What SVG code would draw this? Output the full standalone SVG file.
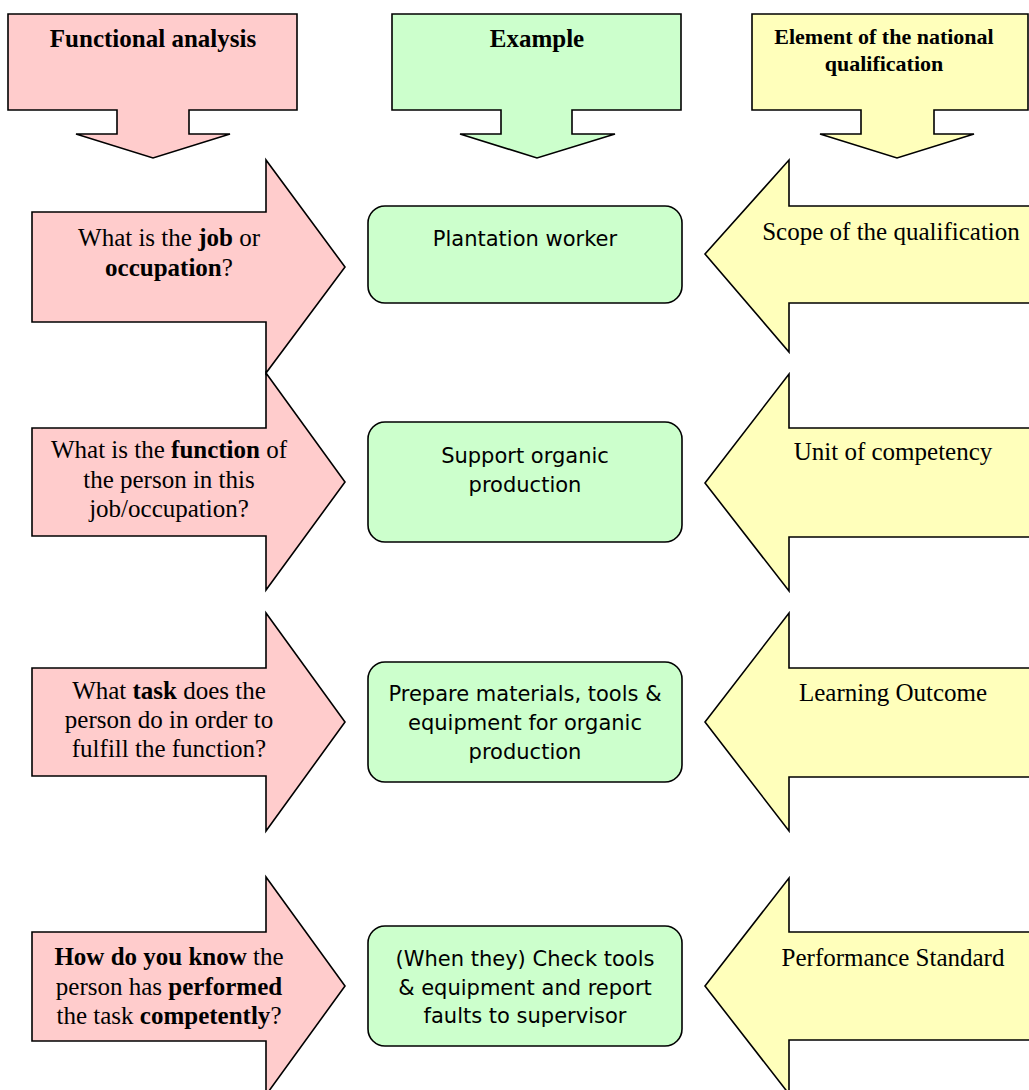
<svg xmlns="http://www.w3.org/2000/svg" width="1029" height="1090" viewBox="0 0 1029 1090">
<style>
.pink{fill:#FFCCCC;stroke:#000;stroke-width:1.6;stroke-linejoin:miter}
.green{fill:#CCFFCC;stroke:#000;stroke-width:1.6}
.yellow{fill:#FFFFBB;stroke:#000;stroke-width:1.6;stroke-linejoin:miter}
.hdr{font-family:"Liberation Serif","Times New Roman",serif;font-weight:bold;font-size:25px;text-anchor:middle;fill:#000}
.ser{font-family:"Liberation Serif","Times New Roman",serif;font-size:25px;text-anchor:middle;fill:#000}
.ser tspan.b{font-weight:bold}
.sans{font-family:"DejaVu Sans",Verdana,sans-serif;font-size:21px;text-anchor:middle;fill:#000}
</style>
<rect width="1029" height="1090" fill="#fff"/>

<g id="header-functional">
<path class="pink" d="M8,14 H297 V110 H189 V134 H230 L153,158 L76,134 H117 V110 H8 Z"/>
<text class="hdr" x="153" y="47">Functional analysis</text>
</g>
<g id="header-example">
<path class="green" d="M392,14 H681 V110 H572 V134 H615 L537,158 L460,134 H501 V110 H392 Z"/>
<text class="hdr" x="537" y="47">Example</text>
</g>
<g id="header-element">
<path class="yellow" d="M752,14 H1028 V110 H934 V134 H974 L897,158 L820,134 H861 V110 H752 Z"/>
<text class="hdr" x="884" y="44" style="font-size:22px">Element of the national</text>
<text class="hdr" x="884" y="71" style="font-size:22px">qualification</text>
</g>

<g id="q-job">
<polygon class="pink" points="32,212 266,212 266,160 345,267 266,373 266,322 32,322"/>
<text class="ser" x="169" y="246">What is the <tspan class="b">job</tspan> or</text>
<text class="ser" x="169" y="276"><tspan class="b">occupation</tspan>?</text>
</g>
<g id="q-function">
<polygon class="pink" points="32,428 266,428 266,373 345,482 266,590 266,536 32,536"/>
<text class="ser" x="169" y="458">What is the <tspan class="b">function</tspan> of</text>
<text class="ser" x="169" y="488">the person in this</text>
<text class="ser" x="169" y="517">job/occupation?</text>
</g>
<g id="q-task">
<polygon class="pink" points="32,668 266,668 266,613 345,722 266,831 266,776 32,776"/>
<text class="ser" x="169" y="699">What <tspan class="b">task</tspan> does the</text>
<text class="ser" x="169" y="728">person do in order to</text>
<text class="ser" x="169" y="757">fulfill the function?</text>
</g>
<g id="q-competent">
<polygon class="pink" points="32,932 266,932 266,877 345,986 266,1095 266,1041 32,1041"/>
<text class="ser" x="169" y="965"><tspan class="b">How do you know</tspan> the</text>
<text class="ser" x="169" y="995">person has <tspan class="b">performed</tspan></text>
<text class="ser" x="169" y="1024">the task <tspan class="b">competently</tspan>?</text>
</g>

<g id="ex-worker">
<rect class="green" x="368" y="206" width="314" height="97" rx="17"/>
<text class="sans" x="525" y="246">Plantation worker</text>
</g>
<g id="ex-support">
<rect class="green" x="368" y="422" width="314" height="120" rx="17"/>
<text class="sans" x="525" y="463">Support organic</text>
<text class="sans" x="525" y="492">production</text>
</g>
<g id="ex-prepare">
<rect class="green" x="368" y="662" width="314" height="120" rx="17"/>
<text class="sans" x="525" y="701">Prepare materials, tools &amp;</text>
<text class="sans" x="525" y="730">equipment for organic</text>
<text class="sans" x="525" y="759">production</text>
</g>
<g id="ex-check">
<rect class="green" x="368" y="926" width="314" height="120" rx="17"/>
<text class="sans" x="525" y="966">(When they) Check tools</text>
<text class="sans" x="525" y="995">&amp; equipment and report</text>
<text class="sans" x="525" y="1023">faults to supervisor</text>
</g>

<g id="el-scope">
<polygon class="yellow" points="1040,206 789,206 789,160 705,254 789,352 789,303 1040,303"/>
<text class="ser" x="891" y="240">Scope of the qualification</text>
</g>
<g id="el-unit">
<polygon class="yellow" points="1040,428 789,428 789,374 705,483 789,591 789,537 1040,537"/>
<text class="ser" x="893" y="460">Unit of competency</text>
</g>
<g id="el-outcome">
<polygon class="yellow" points="1040,668 789,668 789,613 705,722 789,831 789,777 1040,777"/>
<text class="ser" x="893" y="701">Learning Outcome</text>
</g>
<g id="el-standard">
<polygon class="yellow" points="1040,932 789,932 789,878 705,986 789,1094 789,1040 1040,1040"/>
<text class="ser" x="893" y="966">Performance Standard</text>
</g>

<g id="connectors"></g>
</svg>
